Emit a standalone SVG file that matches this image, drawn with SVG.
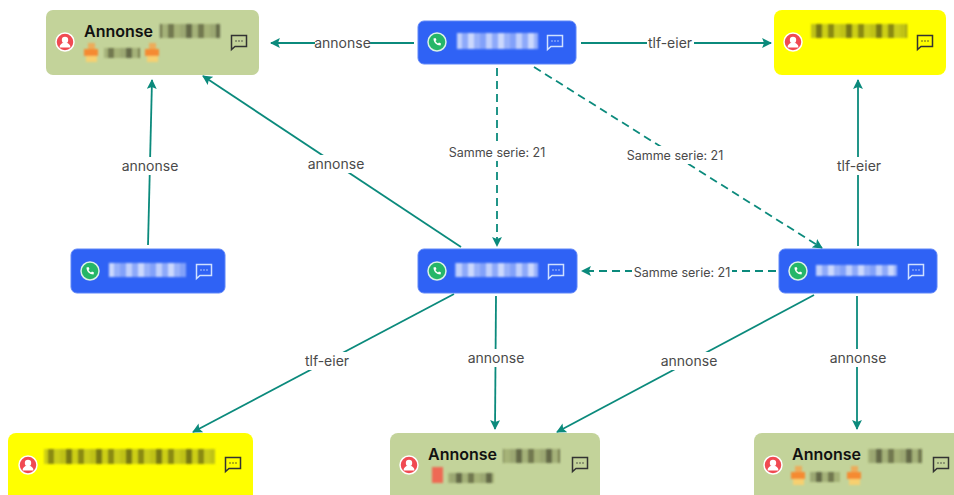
<svg xmlns="http://www.w3.org/2000/svg" width="954" height="495" viewBox="0 0 954 495">
<style>
.e{fill:none;stroke:#0b8a7c;stroke-width:1.800}
.d{stroke-dasharray:8 5}
.l{font:14px Inter,"Open Sans","Liberation Sans",sans-serif;fill:#4a4a4a;text-anchor:middle}
.s{font-size:12.500px}
.lb{fill:#fff}
.t{font:600 16px Inter,"Open Sans","Liberation Sans",sans-serif;fill:#111}
.blue{fill:#2f62f5;stroke:#5f86f8;stroke-width:1}.green{fill:#c3d39a}.yellow{fill:#ffff00}
.ci{fill:#f04a52;stroke:#fff;stroke-width:1.500}
.ph{fill:#25b668;stroke:#d9f2e6;stroke-width:1.500}
.chd{fill:none;stroke:#333;stroke-width:1.500}.chw{fill:none;stroke:#cfe0ff;stroke-width:1.500}
</style>
<defs>
<marker id="a" viewBox="0 0 10 10" refX="9" refY="5" markerWidth="5.500" markerHeight="5.500" markerUnits="strokeWidth" orient="auto"><path d="M0 0L10 5L0 10L2 5Z" fill="#0b8a7c"/></marker>
<filter id="b" x="-10%" y="-30%" width="120%" height="160%"><feGaussianBlur stdDeviation="1"/></filter>
<pattern id="mw" width="30" height="18" patternUnits="userSpaceOnUse"><rect width="6" height="18" fill="#fff" opacity=".4"/><rect x="6" width="6" height="18" fill="#fff" opacity=".7"/><rect x="12" width="6" height="18" fill="#fff" opacity=".45"/><rect x="18" width="6" height="18" fill="#fff" opacity=".75"/><rect x="24" width="6" height="18" fill="#fff" opacity=".5"/></pattern>
<pattern id="md" width="30" height="15" patternUnits="userSpaceOnUse"><rect width="6" height="15" fill="#5f6a35" opacity=".4"/><rect x="6" width="6" height="15" fill="#2f3318" opacity=".65"/><rect x="12" width="6" height="15" fill="#6d7540" opacity=".35"/><rect x="18" width="6" height="15" fill="#3a3d1d" opacity=".6"/><rect x="24" width="6" height="15" fill="#7b8145" opacity=".4"/></pattern>
<g id="user"><circle r="9" class="ci"/><circle cy="-2" r="3.200" fill="#fff"/><path d="M-5.500 5.500a5.500 5 0 0 1 11 0z" fill="#fff"/></g>
<g id="phone"><circle r="9" class="ph"/><path d="M-3.500-3.500c0 4 3 7 7 7l.5-2-2-1-1 1c-1-.5-2-1.500-2.500-2.500l1-1-1-2z" fill="#fff"/></g>
<g id="chatd"><path d="M-7.500-6.500h15v11h-11.500l-3.500 3z" class="chd"/><path d="M-3.500-1h1M-.5-1h1M2.500-1h1" stroke="#333" stroke-width="1.500"/></g>
<g id="chatw"><path d="M-7.500-6.500h15v11h-11.500l-3.500 3z" class="chw"/><path d="M-3.500-1h1M-.5-1h1M2.500-1h1" stroke="#cfe0ff" stroke-width="1.500"/></g>
<g id="flame" filter="url(#b)"><rect x="5" y="0" width="7" height="6" fill="#f8a24a" opacity=".8"/><rect x="1" y="6" width="14" height="7" fill="#f58a30"/><rect x="3" y="13" width="11" height="6" fill="#f7d070"/></g>
</defs>
<rect width="954" height="495" fill="#fff"/>
<g id="connectors">
<path class="e" marker-end="url(#a)" d="M414 43H271"/>
<path class="e" marker-end="url(#a)" d="M581 43H771"/>
<path class="e" marker-end="url(#a)" d="M148 245L152 80"/>
<path class="e" marker-end="url(#a)" d="M461 247L203 76"/>
<path class="e d" marker-end="url(#a)" d="M497 68V246"/>
<path class="e d" marker-end="url(#a)" d="M534 67L822 248"/>
<path class="e d" marker-end="url(#a)" d="M776 271H582"/>
<path class="e" marker-end="url(#a)" d="M858 246V80"/>
<path class="e" marker-end="url(#a)" d="M454 294L193 432"/>
<path class="e" marker-end="url(#a)" d="M496 296L495 429"/>
<path class="e" marker-end="url(#a)" d="M814 295L557 432"/>
<path class="e" marker-end="url(#a)" d="M857 296V429"/>
<rect class="lb" x="315" y="34" width="55" height="18"/><text class="l" x="342.500" y="48">annonse</text>
<rect class="lb" x="647" y="34" width="47" height="18"/><text class="l" x="670" y="48">tlf-eier</text>
<rect class="lb" x="122" y="157" width="56" height="18"/><text class="l" x="150" y="171">annonse</text>
<rect class="lb" x="308" y="155" width="56" height="18"/><text class="l" x="336" y="169">annonse</text>
<rect class="lb" x="447" y="143" width="100" height="18"/><text class="l s" x="497" y="157">Samme serie: 21</text>
<rect class="lb" x="625" y="146" width="100" height="18"/><text class="l s" x="675" y="160">Samme serie: 21</text>
<rect class="lb" x="632" y="263" width="100" height="18"/><text class="l s" x="682" y="277">Samme serie: 21</text>
<rect class="lb" x="836" y="157" width="47" height="18"/><text class="l" x="859" y="171">tlf-eier</text>
<rect class="lb" x="304" y="352" width="46" height="18"/><text class="l" x="327" y="366">tlf-eier</text>
<rect class="lb" x="468" y="349" width="56" height="18"/><text class="l" x="496" y="363">annonse</text>
<rect class="lb" x="661" y="352" width="56" height="18"/><text class="l" x="689" y="366">annonse</text>
<rect class="lb" x="830" y="349" width="56" height="18"/><text class="l" x="858" y="363">annonse</text>
</g>
<g id="n1"><rect class="green" x="46" y="10" width="213" height="65" rx="7"/><use href="#user" x="65" y="42"/><text class="t" x="84" y="37">Annonse</text><rect x="160" y="24" width="60" height="14" fill="url(#md)" filter="url(#b)"/><use href="#flame" x="83" y="43"/><rect x="104" y="48" width="36" height="10" fill="url(#md)" filter="url(#b)"/><use href="#flame" x="144" y="43"/><use href="#chatd" x="239" y="42"/></g>
<g id="n2"><rect class="blue" x="418" y="21" width="158" height="43" rx="6"/><use href="#phone" x="437" y="42"/><rect x="457" y="33" width="81" height="16" fill="url(#mw)" filter="url(#b)"/><use href="#chatw" x="555" y="42"/></g>
<g id="n3"><rect class="yellow" x="774" y="10" width="172" height="65" rx="8"/><use href="#user" x="793" y="42"/><rect x="811" y="24" width="96" height="14" fill="url(#md)" filter="url(#b)"/><use href="#chatd" x="925" y="42"/></g>
<g id="n4"><rect class="blue" x="71" y="249" width="154" height="44" rx="6"/><use href="#phone" x="90" y="271"/><rect x="109" y="263" width="77" height="14" fill="url(#mw)" filter="url(#b)"/><use href="#chatw" x="204" y="271"/></g>
<g id="n5"><rect class="blue" x="418" y="249" width="159" height="44" rx="6"/><use href="#phone" x="437" y="271"/><rect x="455" y="263" width="83" height="14" fill="url(#mw)" filter="url(#b)"/><use href="#chatw" x="556" y="271"/></g>
<g id="n6"><rect class="blue" x="779" y="249" width="158" height="44" rx="6"/><use href="#phone" x="798" y="271"/><rect x="816" y="265" width="81" height="11" fill="url(#mw)" filter="url(#b)"/><use href="#chatw" x="916" y="271"/></g>
<g id="n7"><rect class="yellow" x="8" y="433" width="245" height="70" rx="8"/><use href="#user" x="28" y="465"/><rect x="44" y="449" width="171" height="15" fill="url(#md)" filter="url(#b)"/><use href="#chatd" x="233" y="464"/></g>
<g id="n8"><rect class="green" x="390" y="433" width="210" height="70" rx="8"/><use href="#user" x="409" y="465"/><text class="t" x="428" y="460">Annonse</text><rect x="503" y="449" width="57" height="14" fill="url(#md)" filter="url(#b)"/><rect x="432" y="467" width="11" height="16" fill="#ee6a55" filter="url(#b)"/><rect x="448" y="473" width="46" height="10" fill="url(#md)" filter="url(#b)"/><use href="#chatd" x="580" y="464"/></g>
<g id="n9"><rect class="green" x="754" y="433" width="210" height="70" rx="8"/><use href="#user" x="773" y="465"/><text class="t" x="792" y="460">Annonse</text><rect x="868" y="449" width="54" height="14" fill="url(#md)" filter="url(#b)"/><use href="#flame" x="790" y="466"/><rect x="810" y="472" width="30" height="10" fill="url(#md)" filter="url(#b)"/><use href="#flame" x="846" y="466"/><use href="#chatd" x="941" y="464"/></g>
</svg>
